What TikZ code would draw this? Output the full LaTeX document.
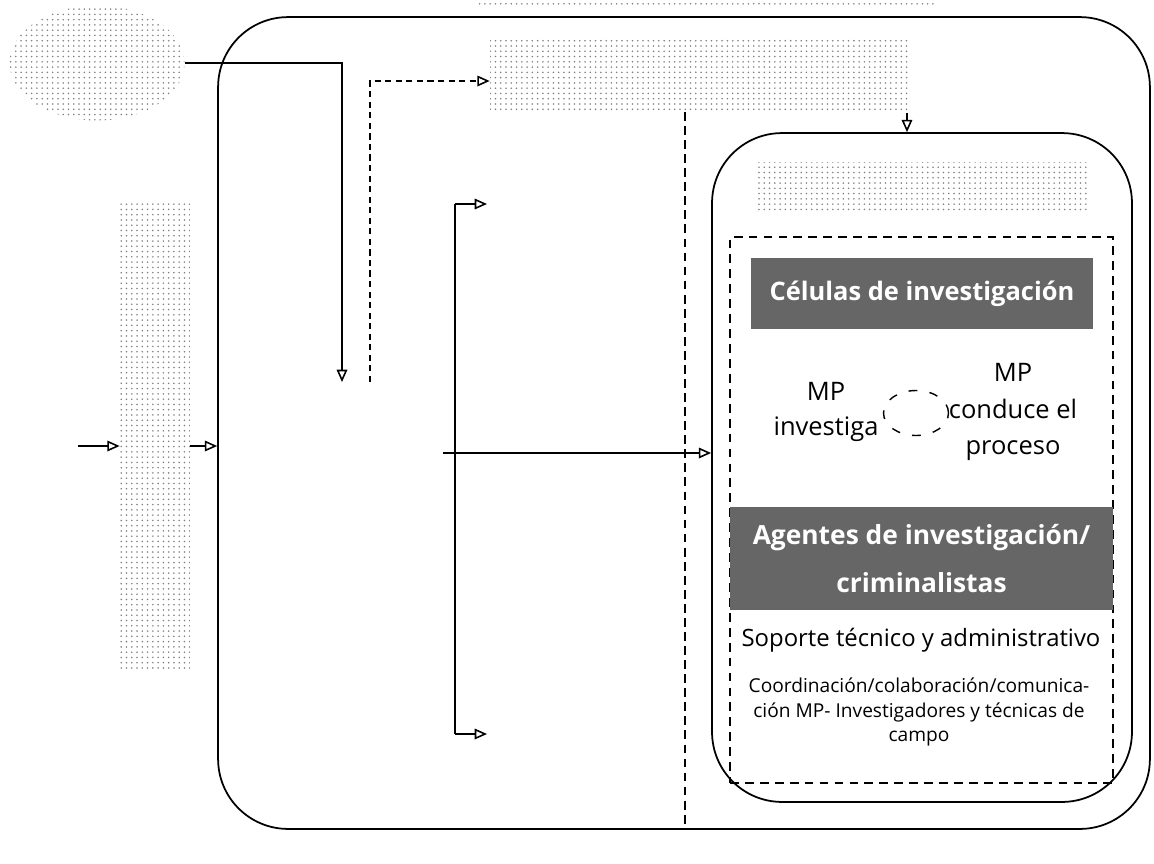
\documentclass[tikz,border=0pt]{standalone}
\usepackage{fontspec}
\setmainfont{Open Sans}
\usepackage{tikz}
\usetikzlibrary{patterns,arrows.meta,shapes.geometric}
\definecolor{mygray}{gray}{0.40}
\tikzstyle{arrow} = [line width=0.9pt,-{Triangle[open,length=7pt,width=6pt]}]
\tikzstyle{dasharrow} = [arrow,dash pattern=on 3.5pt off 2.5pt]
\tikzstyle{blob} = [pattern=dots,pattern color=gray,inner sep=0pt]
\tikzstyle{graybar} = [fill=mygray,text=white,inner sep=0pt]
\tikzstyle{roundbox} = [draw,line width=1pt,inner sep=0pt]

\begin{document}
\begin{tikzpicture}[x=0.02cm,y=-0.02cm]
            \useasboundingbox (0,0) rectangle (1154,863);
            % Boxes
            \draw (684,423) node[roundbox,rounded corners=1.4cm,minimum width=18.64cm,minimum height=16.24cm] (outer) {};
            \draw (922,467.5) node[roundbox,rounded corners=1.4cm,minimum width=8.4cm,minimum height=13.38cm] (inner) {};
            \draw (921.5,510) node[draw,line width=0.9pt,dash pattern=on 5pt off 3.5pt,minimum width=7.66cm,minimum height=10.92cm] (celula) {};
            \draw[line width=1pt,dash pattern=on 5pt off 3pt] (685,112) -- (685,829);
            % Blurred texts
            \path (706,3) node[blob,minimum width=9.2cm,minimum height=0.16cm] (titulo) {};
            \path (97,63) node[blob,ellipse,minimum width=3.5cm,minimum height=2.3cm] (nota) {};
            \path (700,75) node[blob,minimum width=8.4cm,minimum height=1.5cm] (encabezado) {};
            \path (921,187) node[blob,minimum width=6.64cm,minimum height=1cm] (subtitulo) {};
            \path (155,436) node[blob,minimum width=1.4cm,minimum height=9.3cm] (entrada) {};
            % Bars
            \path (922,293.5) node[graybar,minimum width=6.84cm,minimum height=1.42cm,font=\fontsize{14.5}{17}\selectfont\bfseries] (celulas) {Células de investigación};
            \path (921.5,558.5) node[graybar,minimum width=7.66cm,minimum height=2.06cm,align=center,font=\fontsize{15}{27}\selectfont\bfseries] (agentes) {Agentes de investigación/\\criminalistas};
            % Texts
            \path (826,412) node[align=center,font=\fontsize{14.5}{20}\selectfont] (investiga) {MP\\investiga};
            \path (916,413) node[draw,ellipse,line width=0.8pt,dash pattern=on 5pt off 7pt,minimum width=1.3cm,minimum height=0.9cm] (ciclo) {};
            \path (1013,412) node[align=center,font=\fontsize{14.5}{21}\selectfont] (conduce) {MP\\conduce el\\proceso};
            \path (921,640) node[font=\fontsize{13.6}{16}\selectfont] (soporte) {Soporte técnico y administrativo};
            \path (919,712) node[align=center,font=\fontsize{10.9}{14.2}\selectfont] (coordinacion) {Coordinación/colaboración/comunica-\\ción MP- Investigadores y técnicas de\\campo};
            % Points
            \coordinate (bajada) at (342,382);
            \coordinate (subida) at (370,382);
            \coordinate (giro) at (370,81);
            \coordinate (bkTop) at (455,204);
            \coordinate (bkBot) at (455,734);
            \coordinate (bkTopEnd) at (487,204);
            \coordinate (bkBotEnd) at (487,734);
            \coordinate (cruce) at (443,453);
            \coordinate (llegada) at (78,446);
            \coordinate (baja) at (907,113);
            % Arrows
            \draw[arrow] (nota.east) -| (bajada);
            \draw[dasharrow] (subida) -- (giro) -- (giro -| encabezado.west);
            \draw[line width=0.9pt] (bkTop) -- (bkBot);
            \draw[arrow] (bkTop) -- (bkTopEnd);
            \draw[arrow] (bkBot) -- (bkBotEnd);
            \draw[arrow] (cruce) -- (cruce -| inner.west);
            \draw[arrow] (llegada) -- (llegada -| entrada.west);
            \draw[arrow] (llegada -| entrada.east) -- (llegada -| outer.west);
            \draw[arrow] (baja) -- (baja |- inner.north);
        \end{tikzpicture}
\end{document}
